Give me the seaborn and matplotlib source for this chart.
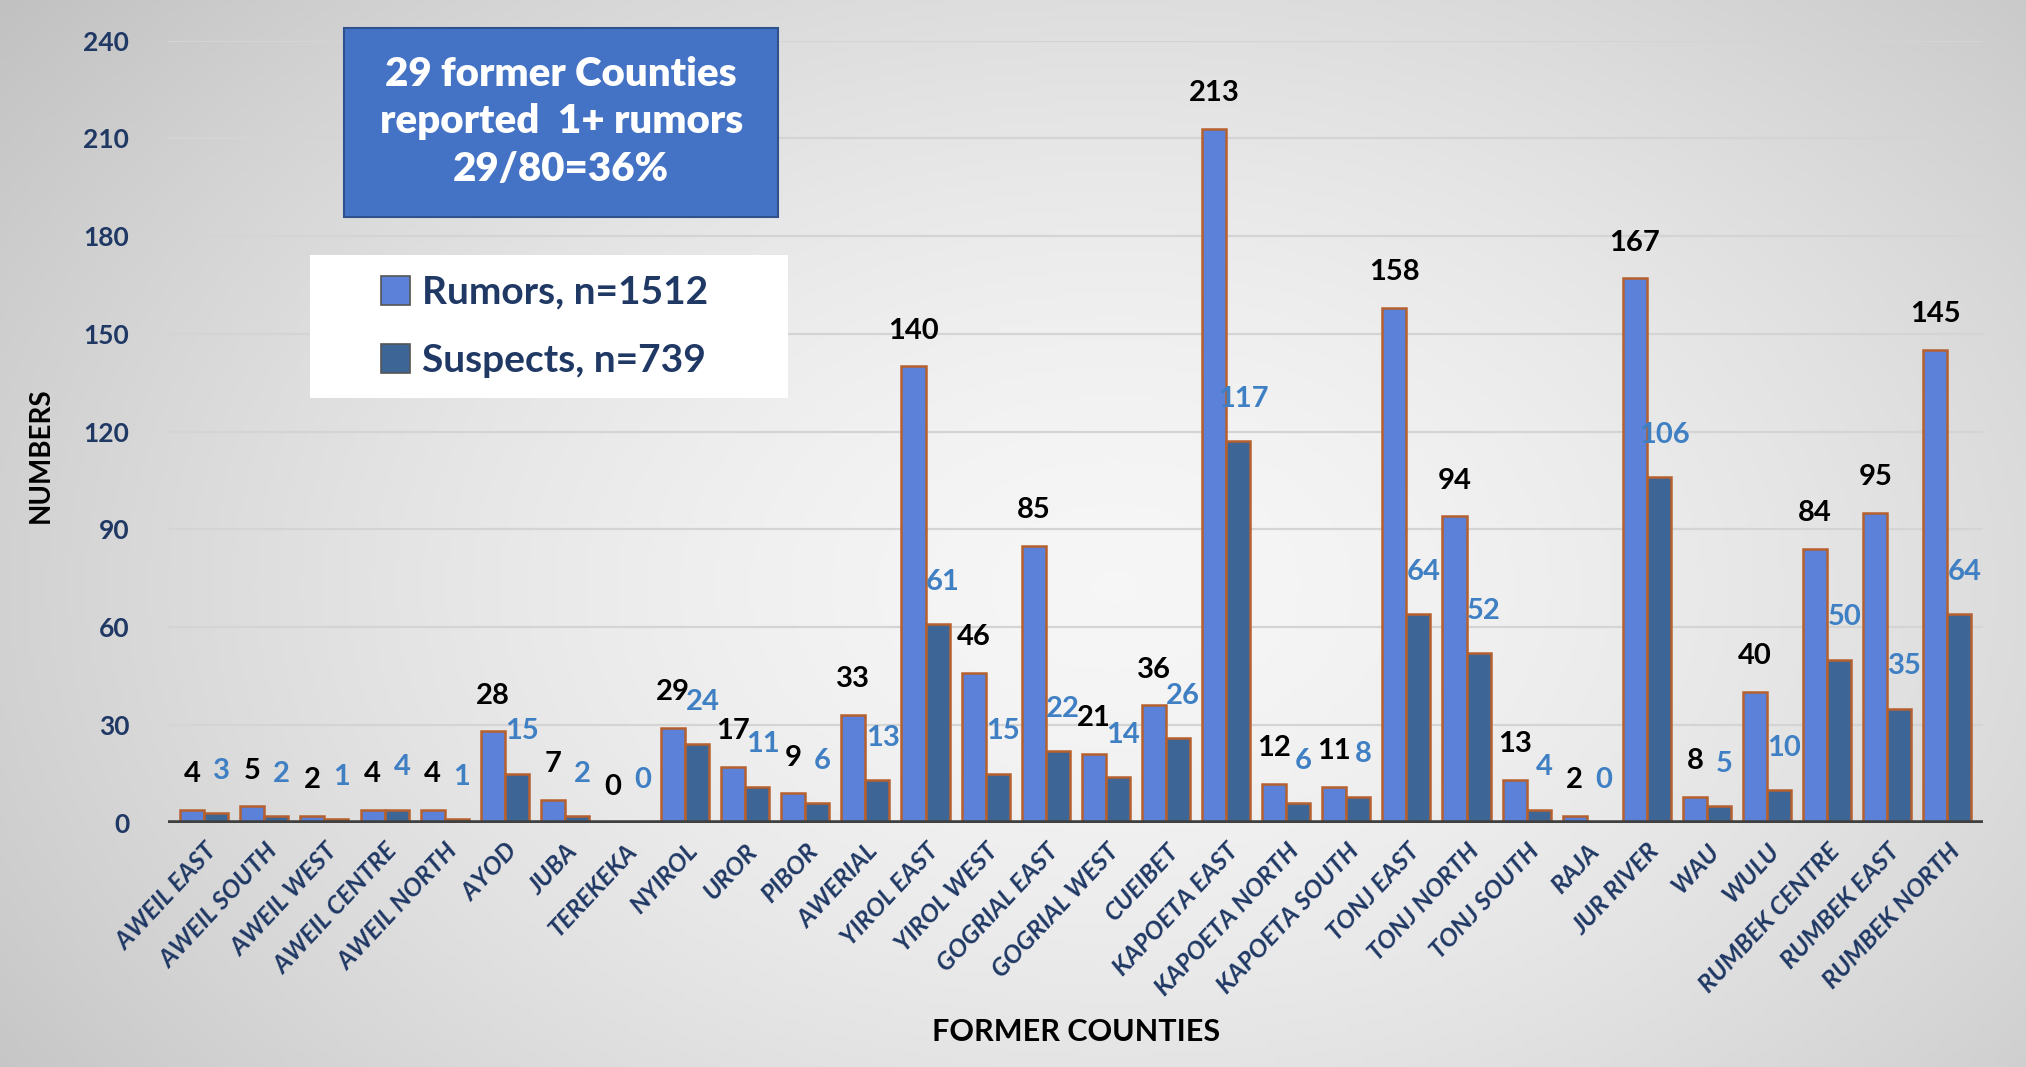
import numpy as np
import pandas as pd
import matplotlib
matplotlib.use("Agg")
import matplotlib.pyplot as plt
from matplotlib.patches import Rectangle, Patch
import seaborn as sns

counties = ["AWEIL EAST", "AWEIL SOUTH", "AWEIL WEST", "AWEIL CENTRE", "AWEIL NORTH",
            "AYOD", "JUBA", "TEREKEKA", "NYIROL", "UROR", "PIBOR", "AWERIAL",
            "YIROL EAST", "YIROL WEST", "GOGRIAL EAST", "GOGRIAL WEST", "CUEIBET",
            "KAPOETA EAST", "KAPOETA NORTH", "KAPOETA SOUTH", "TONJ EAST", "TONJ NORTH",
            "TONJ SOUTH", "RAJA", "JUR RIVER", "WAU", "WULU", "RUMBEK CENTRE",
            "RUMBEK EAST", "RUMBEK NORTH"]
rumors = [4, 5, 2, 4, 4, 28, 7, 0, 29, 17, 9, 33, 140, 46, 85, 21, 36, 213, 12, 11,
          158, 94, 13, 2, 167, 8, 40, 84, 95, 145]
suspects = [3, 2, 1, 4, 1, 15, 2, 0, 24, 11, 6, 13, 61, 15, 22, 14, 26, 117, 6, 8,
            64, 52, 4, 0, 106, 5, 10, 50, 35, 64]
series_names = ["Rumors, n=1512", "Suspects, n=739"]
yticks = [0, 30, 60, 90, 120, 150, 180, 210, 240]
box_text = "29 former Counties\nreported  1+ rumors\n29/80=36%"

df = pd.DataFrame({
    "county": counties * 2,
    "value": rumors + suspects,
    "series": [series_names[0]] * len(counties) + [series_names[1]] * len(counties),
})

sns.set_theme(style="white")
plt.rcParams["font.family"] = ["Lato", "DejaVu Sans"]

W, H = 2026, 1067
fig = plt.figure(figsize=(W / 100, H / 100), dpi=100)

# background gradient
bg = fig.add_axes([0, 0, 1, 1], zorder=-10)
yy, xx = np.mgrid[0:1:200j, 0:1:400j]
r = np.sqrt(((xx - 0.55) / 0.7) ** 2 + ((yy - 0.45) / 0.9) ** 2)
g = np.clip(0.965 - 0.21 * r ** 1.6, 0.70, 0.97)
bg.imshow(np.dstack([g, g, g]), aspect="auto", extent=[0, 1, 0, 1], origin="lower")
bg.axis("off")

ax = fig.add_axes([0.083, 0.229, 0.896, 0.733])
ax.set_facecolor("none")

rum_col = "#5b82d8"
sus_col = "#3d6697"
edge_col = "#b5602e"

sns.barplot(data=df, x="county", y="value", hue="series",
            palette=[rum_col, sus_col], width=0.8, edgecolor=edge_col,
            linewidth=1.8, ax=ax, legend=False, zorder=3, saturation=1)

ax.set_ylim(0, 240)
ax.set_xlim(-0.6, len(counties) - 0.4)
ax.set_yticks(yticks)
ax.grid(axis="y", color="#d4d4d4", linewidth=1.6, zorder=0)
for s in ax.spines.values():
    s.set_visible(False)
ax.axhline(0, color="#404040", linewidth=4, zorder=4)

navy = "#1f3864"
ax.tick_params(axis="y", length=0, pad=28, labelsize=19, labelcolor=navy)
for t in ax.get_yticklabels():
    t.set_fontweight("bold")
ax.tick_params(axis="x", length=0, pad=12)
ax.set_xticks(range(len(counties)))
ax.set_xticklabels(counties, rotation=47, ha="right", rotation_mode="anchor",
                   fontsize=18, fontstyle="italic", fontweight="bold", color=navy)

ax.set_xlabel("FORMER COUNTIES", fontsize=22, fontweight="bold", color="black")
ax.xaxis.set_label_coords(0.5, -0.25)
ax.set_ylabel("NUMBERS", fontsize=20, fontweight="bold", color="black")
ax.yaxis.set_label_coords(-0.063, 0.47)

# value labels
n = len(counties)
bars = ax.patches
rum_bars = bars[:n]
sus_bars = bars[n:2 * n]
for b in rum_bars:
    h = b.get_height()
    ax.text(b.get_x() + b.get_width() * 0.5, h + 7, f"{int(round(h))}", ha="center",
            va="bottom", fontsize=21, fontweight="bold", color="black", zorder=6)
for b in sus_bars:
    h = b.get_height()
    ax.text(b.get_x() + b.get_width() * 0.72, h + 9, f"{int(round(h))}", ha="center",
            va="bottom", fontsize=21, fontweight="bold", color="#3f7fc3", zorder=6)

# legend (white panel + frameless legend)
fig.patches.append(Rectangle((0.153, 0.627), 0.236, 0.134, transform=fig.transFigure,
                             facecolor="white", edgecolor="none", zorder=4))
handles = [Patch(facecolor=rum_col, edgecolor="#555555", linewidth=1.2),
           Patch(facecolor=sus_col, edgecolor="#555555", linewidth=1.2)]
leg = fig.legend(handles, series_names, loc="center left",
                 bbox_to_anchor=(0.188, 0.694), frameon=False,
                 fontsize=28, handlelength=0.75, handleheight=0.75, handletextpad=0.3,
                 labelspacing=0.85, borderpad=0, borderaxespad=0)
leg.set_zorder(5)
for t in leg.get_texts():
    t.set_color(navy)
    t.set_fontweight("bold")

# blue annotation box
fig.patches.append(Rectangle((0.170, 0.797), 0.214, 0.177, transform=fig.transFigure,
                             facecolor="#4472c4", edgecolor="#2f528f", linewidth=1.5,
                             zorder=5))
fig.text(0.277, 0.886, box_text, ha="center", va="center", fontsize=29,
         fontweight="heavy", color="white", linespacing=1.35, zorder=6)

fig.savefig("out.png", dpi=100)
